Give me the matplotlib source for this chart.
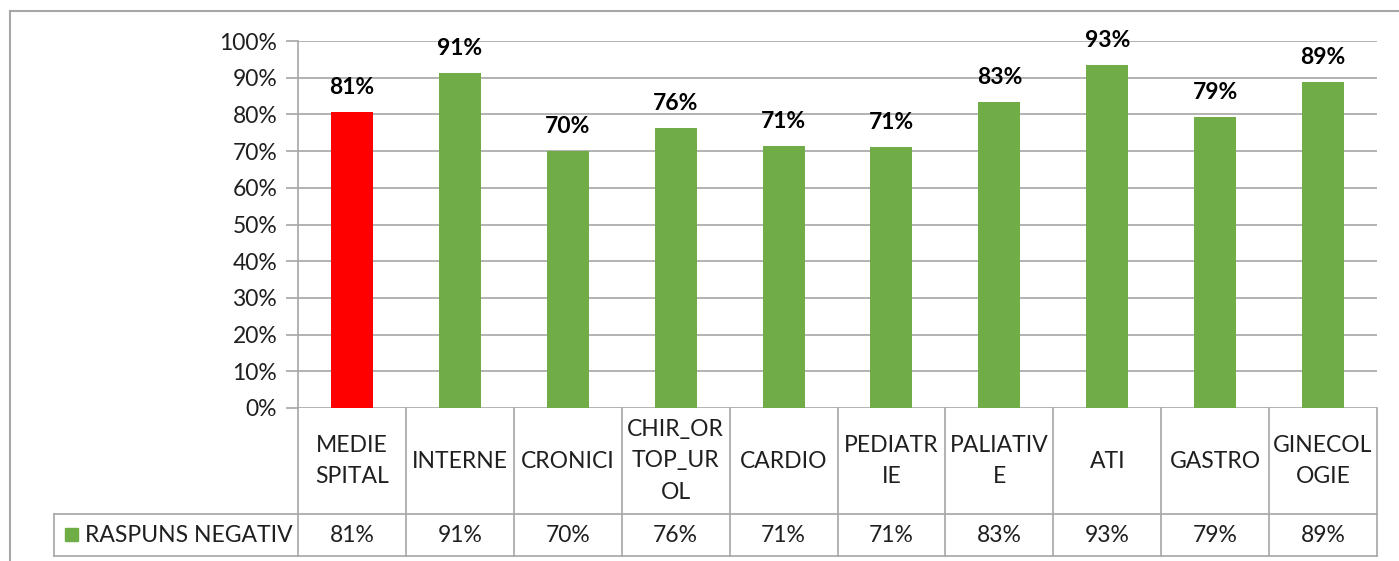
import matplotlib.pyplot as plt
from matplotlib.lines import Line2D
from matplotlib.patches import Rectangle

plt.rcParams['font.family'] = ['Lato', 'DejaVu Sans']

# date
sectii = ["MEDIE\nSPITAL", "INTERNE", "CRONICI", "CHIR_OR\nTOP_UR\nOL", "CARDIO",
          "PEDIATR\nIE", "PALIATIV\nE", "ATI", "GASTRO", "GINECOL\nOGIE"]
raspuns_negativ = [80.6, 91.4, 70.0, 76.4, 71.4, 71.2, 83.3, 93.4, 79.2, 88.9]
culori = ["#FF0000"] + ["#70AD47"] * 9
serie = "RASPUNS NEGATIV"

W, H = 1399, 561
fig = plt.figure(figsize=(W / 100, H / 100), dpi=100)

def fx(px):
    return px / W

def fy(py):
    return 1 - py / H

x0, x1 = 298, 1377      # zona graficului (pixeli)
y_top, y0 = 41, 408
y_mid, y_bot = 514, 556
gri = "#A6A6A6"
text_col = "#1F1F1F"

ax = fig.add_axes([fx(x0), fy(y0), fx(x1) - fx(x0), fy(y_top) - fy(y0)])
pozitii = list(range(len(sectii)))
bare = ax.bar(pozitii, raspuns_negativ, width=0.39, color=culori, zorder=3)
ax.set_xlim(-0.5, len(sectii) - 0.5)
ax.set_ylim(0, 100)
ax.set_yticks(range(0, 101, 10))
ax.set_yticklabels([f"{v}%" for v in range(0, 101, 10)], fontsize=16.5, color=text_col)
ax.set_xticks([])
ax.grid(axis="y", color=gri, linewidth=1.2, zorder=0)
ax.tick_params(axis="y", length=9, width=1.2, color=gri, pad=6)
for s in ["top", "right", "bottom"]:
    ax.spines[s].set_visible(False)
ax.spines["left"].set_color(gri)
ax.spines["left"].set_linewidth(1.2)

# etichete deasupra barelor
for b, v in zip(bare, raspuns_negativ):
    ax.annotate(f"{v:.0f}%", (b.get_x() + b.get_width() / 2, v),
                xytext=(0, 10), textcoords="offset points",
                ha="center", va="bottom", fontsize=16.5, fontweight="bold", color="black")

# chenarul exterior
fig.add_artist(Line2D([fx(10), fx(10)], [fy(11), 0], color=gri, lw=1.5))
fig.add_artist(Line2D([fx(10), 1], [fy(11), fy(11)], color=gri, lw=1.5))

# tabelul de date
def linie(xa, ya, xb, yb):
    fig.add_artist(Line2D([fx(xa), fx(xb)], [fy(ya), fy(yb)], color=gri, lw=1.2))

lat = (x1 - x0) / len(sectii)
for i in range(len(sectii) + 1):
    xi = x0 + i * lat
    linie(xi, y0, xi, y_bot)
linie(54, y_mid, x1, y_mid)
linie(54, y_bot, x1, y_bot)
linie(54, y_mid, 54, y_bot)

for i, (nume, v) in enumerate(zip(sectii, raspuns_negativ)):
    xc = x0 + (i + 0.5) * lat
    fig.text(fx(xc), fy((y0 + y_mid) / 2), nume, ha="center", va="center",
             fontsize=16.5, color=text_col, linespacing=1.6)
    fig.text(fx(xc), fy((y_mid + y_bot) / 2), f"{v:.0f}%", ha="center", va="center",
             fontsize=16.5, color=text_col)

# legenda din tabel
fig.add_artist(Rectangle((fx(65), fy(541)), fx(13), fy(528) - fy(541),
                         color="#70AD47", transform=fig.transFigure))
fig.text(fx(85), fy((y_mid + y_bot) / 2), serie, ha="left", va="center",
         fontsize=16.5, color=text_col)

fig.savefig("out.png", dpi=100)
